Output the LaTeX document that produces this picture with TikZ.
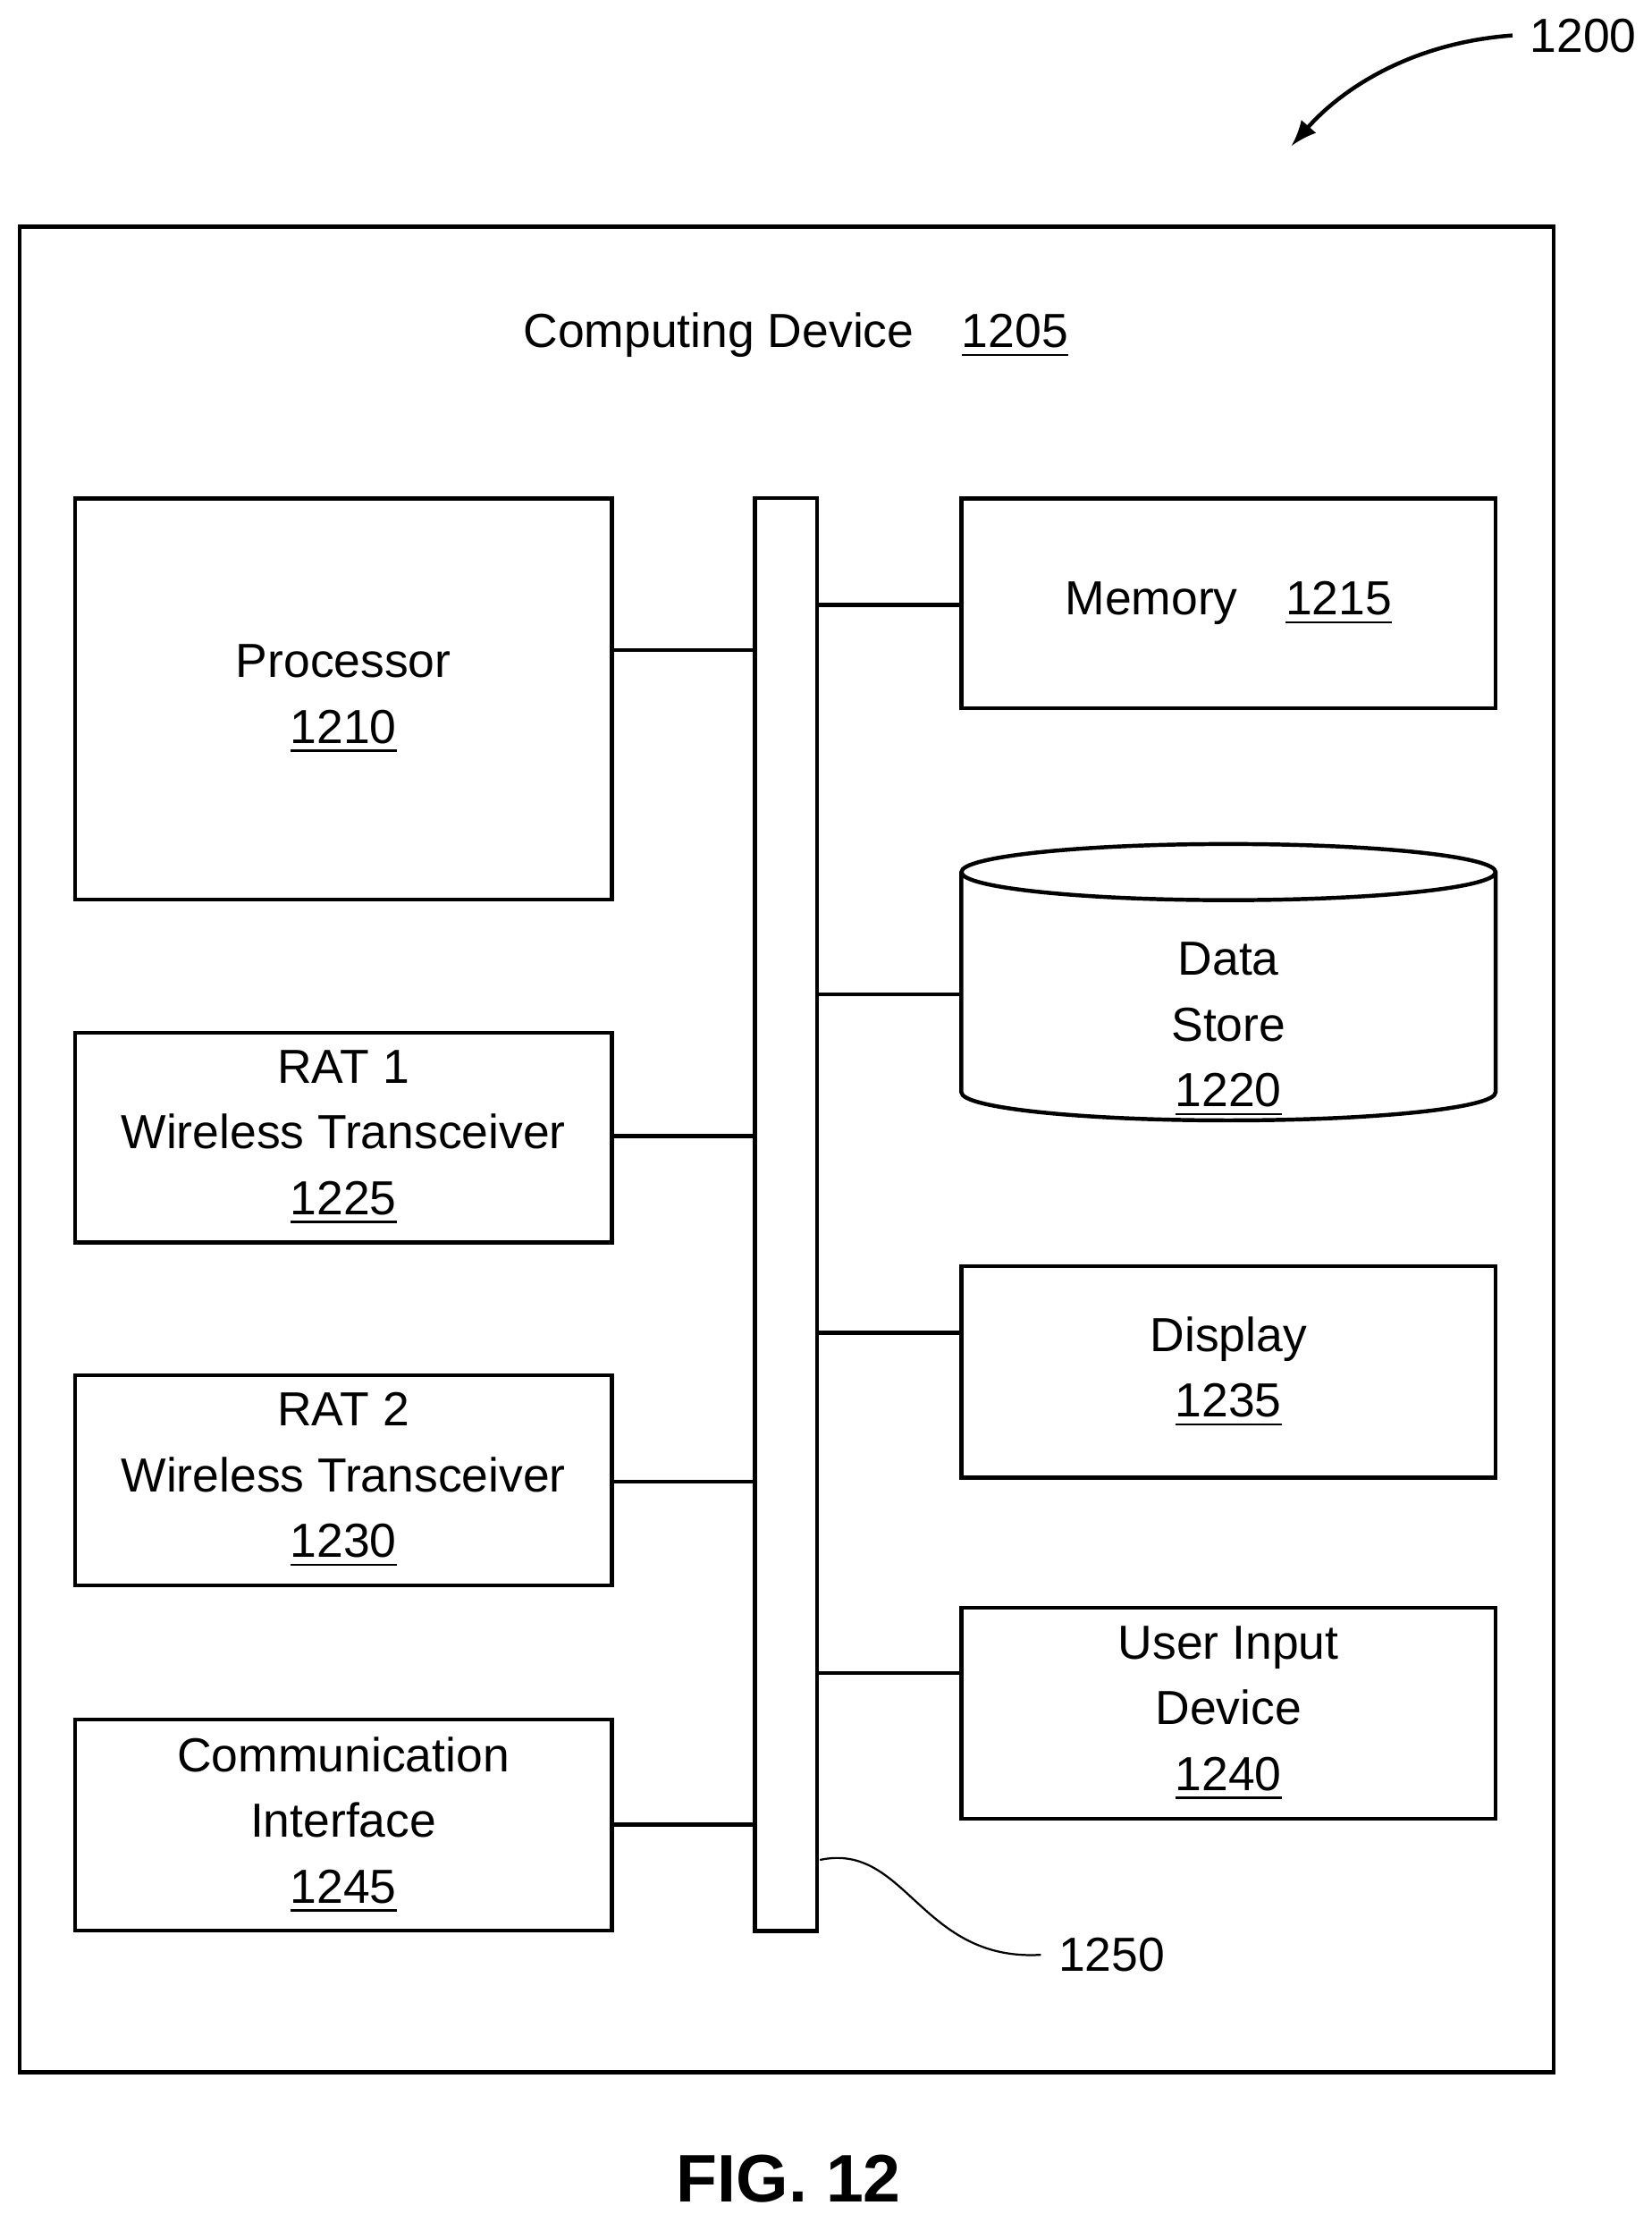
\documentclass[tikz,border=0pt]{standalone}
\usepackage{fontspec}
\setmainfont{Liberation Sans}
\usetikzlibrary{positioning, shapes.geometric, decorations.pathmorphing}

\tikzset{
    blk/.style={draw, thick, minimum width=3.79cm, align=center, inner sep=0pt},
    wire/.style={thick},
}

\begin{document}
\begin{tikzpicture}[x=0.01cm, y=-0.01cm, font=\fontsize{9.6}{13.2}\selectfont]
    \useasboundingbox (0,0) rectangle (1166,1563);

    % Outer device box and its title
    \draw[thick] (14,160) rectangle (1097,1463);
    \node (title) at (562,237) {Computing Device\quad\underline{1205}};

    % Bus
    \node[draw, thick, minimum width=0.44cm, minimum height=10.11cm, inner sep=0pt] (bus) at (555,857.5) {};

    % Left column
    \node[blk, minimum height=2.83cm] (proc) at (242.5,493.5) {Processor\\\underline{1210}};
    \node[blk, minimum height=1.48cm] (rat1) at (242.5,803) {RAT 1\\Wireless Transceiver\\\underline{1225}};
    \node[blk, minimum height=1.48cm] (rat2) at (242.5,1045) {RAT 2\\Wireless Transceiver\\\underline{1230}};
    \node[blk, minimum height=1.49cm] (comm) at (242.5,1288.5) {Communication\\Interface\\\underline{1245}};

    % Right column
    \node[blk, minimum width=3.77cm, minimum height=1.48cm] (mem) at (867.5,426) {Memory\quad\underline{1215}};
    \node[draw, thick, cylinder, shape border rotate=90, aspect=0.11, minimum width=3.77cm,
          minimum height=1.95cm, inner sep=0pt] (store) at (867.5,704) {\hspace*{3.6cm}};
    \node[align=center] (storetxt) at (867.5,727) {Data\\Store\\\underline{1220}};
    \node[blk, minimum width=3.77cm, minimum height=1.49cm] (disp) at (867.5,968.5) {Display\\\underline{1235}};
    \node[blk, minimum width=3.77cm, minimum height=1.49cm] (uid) at (867.5,1209.5) {User Input\\Device\\\underline{1240}};

    % Links to the bus
    \draw[wire] (proc.east |- 0,459) -- (bus.west |- 0,459);
    \draw[wire] (rat1.east |- 0,802) -- (bus.west |- 0,802);
    \draw[wire] (rat2.east |- 0,1046) -- (bus.west |- 0,1046);
    \draw[wire] (comm.east |- 0,1288) -- (bus.west |- 0,1288);
    \draw[wire] (bus.east |- 0,427) -- (mem.west |- 0,427);
    \draw[wire] (bus.east |- 0,702) -- (store.west |- 0,702);
    \draw[wire] (bus.east |- 0,941) -- (disp.west |- 0,941);
    \draw[wire] (bus.east |- 0,1181) -- (uid.west |- 0,1181);

    % Reference labels
    \node (l1250) at (785,1380) {1250};
    \coordinate (b1250) at (579,1313);
    \draw (b1250) .. controls (640,1300) and (650,1385) .. (l1250.west);
    \node (l1200) at (1118,25) {1200};
    \coordinate (a1200) at (912,103);
    \draw[thick, ->, >=latex] (l1200.west) .. controls (1000,30) and (950,60) .. (a1200);

    \node[font=\fontsize{13.5}{16}\selectfont\bfseries] (fig) at (557,1538) {FIG. 12};
\end{tikzpicture}
\end{document}
